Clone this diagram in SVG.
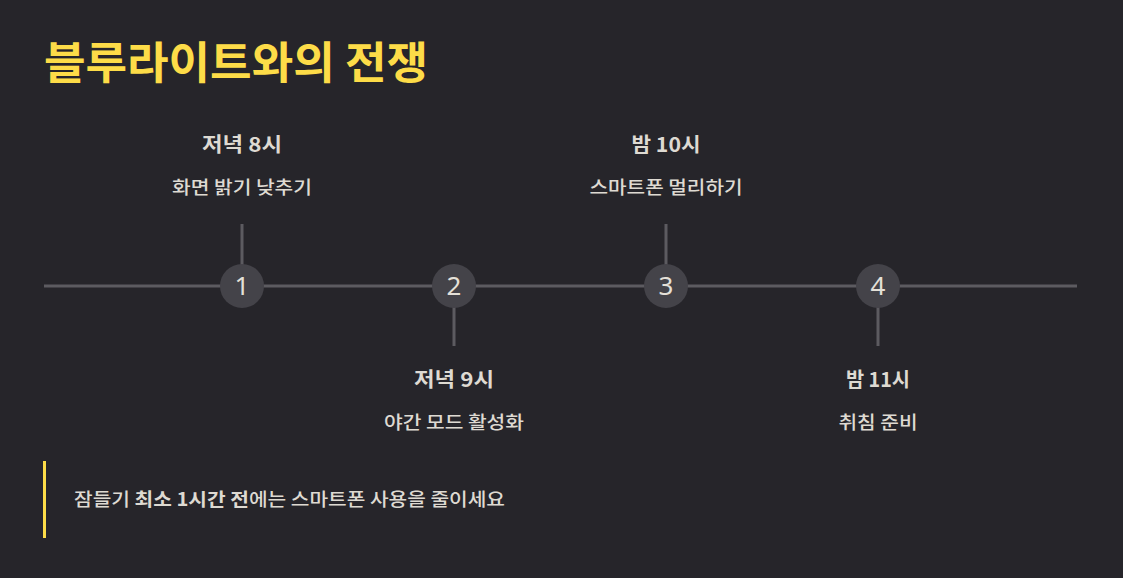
<svg xmlns="http://www.w3.org/2000/svg" width="1123" height="578" viewBox="0 0 1123 578">
<style>
.t{font-family:"Noto Sans CJK KR","Noto Sans",sans-serif;fill:#dedad2;text-anchor:middle}
.time{font-size:20px;font-weight:700}
.desc{font-size:18px;font-weight:500}
.num{font-family:"Noto Sans","Noto Sans CJK KR",sans-serif;font-size:26px;fill:#e4e0d8;text-anchor:middle}
.dot{fill:#444349}
.stem{stroke:#5c5b60;stroke-width:3}
</style>
<rect width="1123" height="578" fill="#26252a"/>
<text x="44" y="79" font-family="'Noto Sans CJK KR',sans-serif" font-size="44" font-weight="700" fill="#fddc48" textLength="384" lengthAdjust="spacingAndGlyphs">블루라이트와의 전쟁</text>
<g id="connectors">
<line x1="44" y1="286" x2="1077" y2="286" stroke="#5c5b60" stroke-width="3"/>
<line class="stem" x1="242" y1="224" x2="242" y2="265"/>
<line class="stem" x1="454" y1="307" x2="454" y2="346"/>
<line class="stem" x1="666" y1="224" x2="666" y2="265"/>
<line class="stem" x1="878" y1="307" x2="878" y2="346"/>
</g>
<g id="node1">
<circle class="dot" cx="242" cy="286" r="22"/>
<text class="num" x="242" y="295">1</text>
<text class="t time" x="242" y="152" textLength="80" lengthAdjust="spacingAndGlyphs">저녁 8시</text>
<text class="t desc" x="242" y="194" textLength="140" lengthAdjust="spacingAndGlyphs">화면 밝기 낮추기</text>
</g>
<g id="node2">
<circle class="dot" cx="454" cy="286" r="22"/>
<text class="num" x="454" y="295">2</text>
<text class="t time" x="454" y="387" textLength="80" lengthAdjust="spacingAndGlyphs">저녁 9시</text>
<text class="t desc" x="454" y="429" textLength="140" lengthAdjust="spacingAndGlyphs">야간 모드 활성화</text>
</g>
<g id="node3">
<circle class="dot" cx="666" cy="286" r="22"/>
<text class="num" x="666" y="295">3</text>
<text class="t time" x="666" y="152" textLength="69" lengthAdjust="spacingAndGlyphs">밤 10시</text>
<text class="t desc" x="666" y="194" textLength="153" lengthAdjust="spacingAndGlyphs">스마트폰 멀리하기</text>
</g>
<g id="node4">
<circle class="dot" cx="878" cy="286" r="22"/>
<text class="num" x="878" y="295">4</text>
<text class="t time" x="878" y="387" textLength="64" lengthAdjust="spacingAndGlyphs">밤 11시</text>
<text class="t desc" x="878" y="429" textLength="79" lengthAdjust="spacingAndGlyphs">취침 준비</text>
</g>
<g id="note">
<rect x="43" y="461" width="3" height="77" fill="#fddc48"/>
<text x="74" y="506" font-family="'Noto Sans CJK KR',sans-serif" font-size="18" font-weight="500" fill="#dedad2" textLength="431" lengthAdjust="spacingAndGlyphs">잠들기 <tspan font-weight="700">최소 1시간 전</tspan>에는 스마트폰 사용을 줄이세요</text>
</g>
</svg>
